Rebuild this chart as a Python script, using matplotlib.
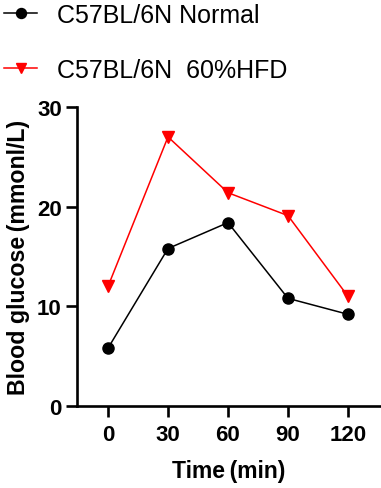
import matplotlib
matplotlib.use('Agg')
from matplotlib import pyplot as plt

# data
time_min = [0, 30, 60, 90, 120]
normal = [5.8, 15.8, 18.4, 10.8, 9.2]
hfd = [12.0, 27.0, 21.4, 19.1, 11.0]
labels = ['C57BL/6N Normal', 'C57BL/6N  60%HFD']
y_ticks = [0, 10, 20, 30]

plt.rcParams['font.family'] = ['Liberation Sans', 'DejaVu Sans']

W, H = 381, 489
fig = plt.figure(figsize=(W / 100, H / 100), dpi=100)
ax = fig.add_axes([77 / W, 1 - 407 / H, (380 - 77) / W, (407 - 108) / H])

l1, = ax.plot(time_min, normal, color='black', lw=1.1, marker='o', ms=8)
l2, = ax.plot(time_min, hfd, color='red', lw=1.1, marker='v', ms=8.5)

ax.set_xlim(-15.5, 136)
ax.set_ylim(0, 30)
ax.set_xticks(time_min)
ax.set_yticks(y_ticks)

for s in ['top', 'right']:
    ax.spines[s].set_visible(False)
for s in ['left', 'bottom']:
    ax.spines[s].set_linewidth(1.9)

ax.tick_params(axis='both', width=1.9, length=8, labelsize=16, pad=3)
for t in ax.get_xticklabels() + ax.get_yticklabels():
    t.set_fontweight('bold')
ax.tick_params(axis='x', pad=5)

ax.set_xlabel('Time\u2009(min)', fontsize=16.5, fontweight='bold', labelpad=10)
ax.set_ylabel('Blood glucose\u2009(mmonl/L)', fontsize=16.7, fontweight='bold', labelpad=5)

fig.legend([l1, l2], labels, loc='upper left', bbox_to_anchor=(0.005, 0.997),
           frameon=False, fontsize=18, handlelength=1.3, labelspacing=1.25,
           borderaxespad=0.0, borderpad=0.1, handletextpad=0.8, markerscale=0.9)

fig.savefig('out.png', dpi=100)
